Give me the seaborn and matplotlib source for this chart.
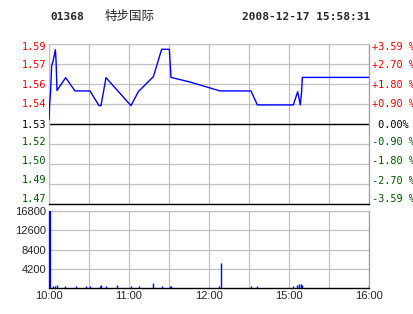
import matplotlib
matplotlib.use("Agg")
import matplotlib.pyplot as plt
import matplotlib.transforms as mtrans
import seaborn as sns
import pandas as pd
import numpy as np

# ---- data ----
code = "01368"
name = "特步国际"
stamp = "2008-12-17 15:58:31"
prev_close = 1.53
max_pct = 3.59

# trading minutes since 10:00 (lunch break compressed)
price_t = [0, 0.5, 1.2, 2.0, 3.0, 4.8, 5.3, 6.0, 12.5, 19.5, 30.75, 37.5, 39.0,
           42.75, 61.5, 67.0, 78.25, 84.5, 90.25, 91.5, 105.0, 118.0, 128.25,
           151.5, 156.25, 183.25, 186.5, 188.5, 189.5, 190.0, 240.0]
price_v = [1.533, 1.544, 1.552, 1.570, 1.573, 1.581, 1.573, 1.553, 1.5618, 1.5527,
           1.5527, 1.5426, 1.5426, 1.5618, 1.5426, 1.5522, 1.5625, 1.5813, 1.5813,
           1.5620, 1.5590, 1.5555, 1.5527, 1.5527, 1.5431, 1.5431, 1.5522, 1.5431,
           1.5527, 1.5620, 1.5620]

vol_t = [0, 3.25, 4.5, 6.25, 12.25, 20, 27.5, 31, 38, 39.25, 43, 51, 61.75, 67.75,
         78, 85, 90.75, 91.75, 127.75, 129.25, 151.75, 156.25, 183.25, 186.25,
         187.25, 189.25, 190, 240]
vol_v = [16800, 450, 450, 670, 450, 450, 450, 450, 450, 670, 450, 670, 450, 450,
         1200, 450, 450, 450, 450, 5450, 450, 450, 450, 670, 900, 900, 670, 670]

left_labels = ["1.59", "1.57", "1.56", "1.54", "1.53", "1.52", "1.50", "1.49", "1.47"]
right_labels = ["+3.59 %", "+2.70 %", "+1.80 %", "+0.90 %", " 0.00%",
                "-0.90 %", "-1.80 %", "-2.70 %", "-3.59 %"]
vol_ticks = [4200, 8400, 12600, 16800]
time_ticks = [0, 60, 120, 180, 240]
time_labels = ["10:00", "11:00", "12:00", "15:00", "16:00"]

# ---- style ----
sns.set_style("white")
plt.rcParams["font.family"] = ["DejaVu Sans Mono", "Noto Sans CJK SC"]

W, H = 414, 314
fig = plt.figure(figsize=(W / 100, H / 100), dpi=100)
fig.patch.set_facecolor("white")

RED = "#ff0000"
GREEN = "#005a00"
GRID = "#c0c0c0"

def px_axes(l, t, r, b):
    return fig.add_axes([l / W, 1 - b / H, (r - l) / W, (b - t) / H])

def shift(label, dy_px):
    label.set_transform(label.get_transform() +
                        mtrans.ScaledTranslation(0, dy_px / 100, fig.dpi_scale_trans))

ax = px_axes(49, 44, 369, 204)
axv = px_axes(49, 211, 369, 288)

# price panel
df = pd.DataFrame({"t": price_t, "p": price_v})
sns.lineplot(data=df, x="t", y="p", ax=ax, color="#0000ff", lw=1.0, zorder=3)
lo = prev_close * (1 - max_pct / 100)
hi = prev_close * (1 + max_pct / 100)
ax.set_xlim(0, 240)
ax.set_ylim(lo, hi)
yt = np.linspace(hi, lo, 9)
ax.set_yticks(yt)
ax.set_yticklabels(left_labels)
ax.set_xticks(np.arange(0, 241, 30))
ax.set_xticklabels([])
ax.set_xlabel("")
ax.set_ylabel("")
ax.grid(True, color=GRID, lw=0.9)
ax.axhline(prev_close, color="black", lw=1.0, zorder=2)
ax.tick_params(axis="both", length=0, pad=2)
ax.tick_params(axis="y", labelsize=7.4)
cols = [RED] * 4 + ["black"] + [GREEN] * 4
offs = [-2, 0, 0, 1, 0, 3, 4, 4.5, 5.5]
for lab, c, o in zip(ax.get_yticklabels(), cols, offs):
    lab.set_color(c)
    shift(lab, o)
for s in ["top", "left", "right"]:
    ax.spines[s].set_color(GRID)
    ax.spines[s].set_linewidth(0.9)
ax.spines["right"].set_color("#a0a0a0")
ax.spines["bottom"].set_color("black")
ax.spines["bottom"].set_linewidth(1.0)

axr = ax.twinx()
axr.set_ylim(lo, hi)
axr.set_yticks(yt)
axr.set_yticklabels(right_labels)
axr.tick_params(axis="y", length=0, pad=2, labelsize=7.4)
for lab, c, o in zip(axr.get_yticklabels(), cols, offs):
    lab.set_color(c)
    shift(lab, o)
for s in axr.spines.values():
    s.set_visible(False)

# volume panel
axv.vlines(vol_t[1:], 0, vol_v[1:], color="#0000ff", lw=1.0, zorder=3)
axv.vlines([vol_t[0] + 0.5], 0, [vol_v[0]], color="#0000ff", lw=1.6, zorder=5,
           clip_on=False)
axv.set_xlim(0, 240)
axv.set_ylim(0, 16800)
axv.set_yticks(vol_ticks)
axv.set_yticklabels([str(v) for v in vol_ticks], family="Liberation Sans", fontsize=8)
for lab, o in zip(axv.get_yticklabels(), [-2, -2, -2, -2]):
    shift(lab, o)
axv.set_xticks(np.arange(0, 241, 30))
axv.set_xticklabels(["10:00", "", "11:00", "", "12:00", "", "15:00", "", "16:00"],
                    family="Liberation Sans", fontsize=8)
axv.grid(True, color=GRID, lw=0.9)
axv.tick_params(axis="both", length=0, pad=2)
for s in ["top", "left", "right"]:
    axv.spines[s].set_color(GRID)
    axv.spines[s].set_linewidth(0.9)
axv.spines["right"].set_color("#a0a0a0")
axv.spines["bottom"].set_color("black")
axv.spines["bottom"].set_linewidth(1.0)

# header
fig.text(50 / W, 1 - 16.5 / H, code, fontsize=8, fontweight="bold",
         family="DejaVu Sans Mono", va="center", ha="left")
fig.text(105 / W, 1 - 16.5 / H, name, fontsize=9, family=["Noto Sans CJK SC"],
         va="center", ha="left")
fig.text(370 / W, 1 - 16.5 / H, stamp, fontsize=8, fontweight="bold",
         family="DejaVu Sans Mono", va="center", ha="right")

fig.savefig("out.png", dpi=100)
